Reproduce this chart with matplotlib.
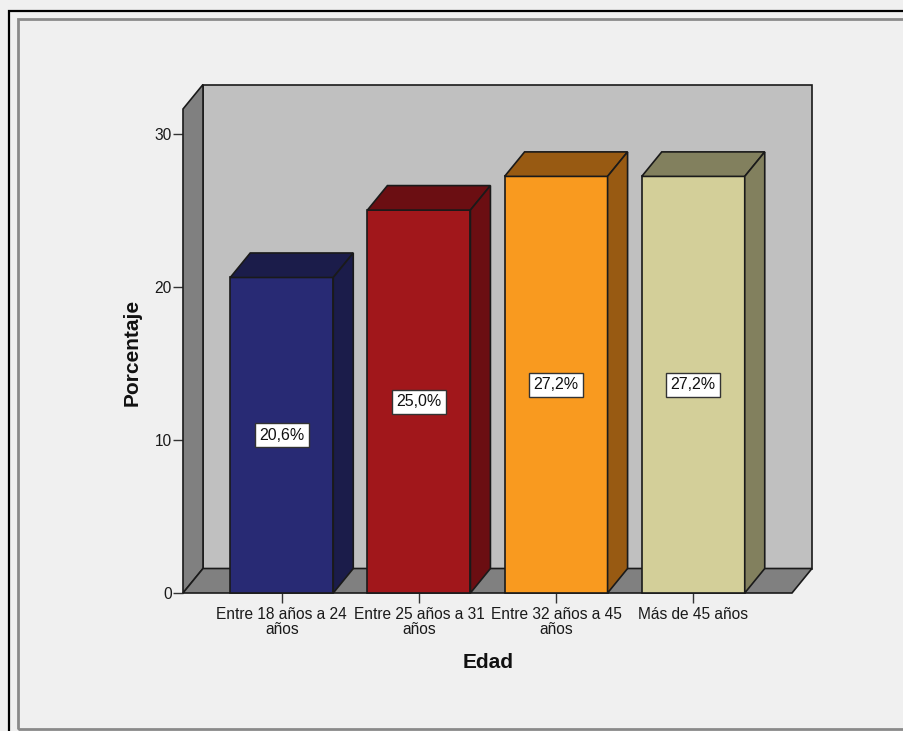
import matplotlib
matplotlib.use('Agg')
import matplotlib.pyplot as plt
from matplotlib.patches import Polygon, Rectangle

plt.rcParams['font.family'] = ['Liberation Sans', 'DejaVu Sans']

# data
categories = ['Entre 18 años a 24\naños', 'Entre 25 años a 31\naños',
              'Entre 32 años a 45\naños', 'Más de 45 años']
values = [20.6, 25.0, 27.2, 27.2]
front_colors = ['#282A74', '#A1171B', '#F99A1F', '#D3CF99']
dark_colors = ['#1B1C4A', '#6B0E12', '#985A12', '#82805E']
yticks = [0, 10, 20, 30]

W, H = 904, 731
EDGE = '#1a1a1a'


def fx(px):
    return px / W


def fy(py):
    return 1 - py / H


def main():
    fig = plt.figure(figsize=(W / 100, H / 100), dpi=100, facecolor='#f0f0f0')

    # frame lines around the chart
    fig.patches.append(Rectangle((fx(8.5), fy(740)), fx(1000), fy(10.5) - fy(740),
                                 transform=fig.transFigure, fill=False,
                                 ec='black', lw=1.6))
    fig.patches.append(Rectangle((fx(18), fy(728.5)), fx(1000), fy(19) - fy(728.5),
                                 transform=fig.transFigure, fill=False,
                                 ec='#8a8a8a', lw=2.0))

    ax = fig.add_axes([fx(183), fy(593), fx(792) - fx(183), fy(109) - fy(593)])
    ax.set_facecolor('none')
    x0, x1 = -0.72, 3.72
    ymax = 31.6
    ax.set_xlim(x0, x1)
    ax.set_ylim(0, ymax)
    dx = 20 / 609 * (x1 - x0)
    dy = 24.5 / 484 * ymax

    # back wall, left wall, floor
    ax.add_patch(Rectangle((x0 + dx, dy), x1 - x0, ymax, fc='#c0c0c0', ec=EDGE,
                           lw=1.2, clip_on=False, zorder=1))
    ax.add_patch(Polygon([(x0, 0), (x0 + dx, dy), (x0 + dx, ymax + dy), (x0, ymax)],
                         fc='#808080', ec=EDGE, lw=1.2, clip_on=False, zorder=2))
    ax.add_patch(Polygon([(x0, 0), (x1, 0), (x1 + dx, dy), (x0 + dx, dy)],
                         fc='#808080', ec=EDGE, lw=1.2, clip_on=False, zorder=2))

    bw = 103 / 609 * (x1 - x0)
    for i, v in enumerate(values):
        l, r = i - bw / 2, i + bw / 2
        ax.add_patch(Rectangle((l, 0), bw, v, fc=front_colors[i], ec=EDGE,
                               lw=1.2, clip_on=False, zorder=3))
        ax.add_patch(Polygon([(l, v), (r, v), (r + dx, v + dy), (l + dx, v + dy)],
                             fc=dark_colors[i], ec=EDGE, lw=1.2, clip_on=False, zorder=3))
        ax.add_patch(Polygon([(r, 0), (r + dx, dy), (r + dx, v + dy), (r, v)],
                             fc=dark_colors[i], ec=EDGE, lw=1.2, clip_on=False, zorder=3))
        label = f'{v:.1f}%'.replace('.', ',')
        ax.text(i, v / 2, label, ha='center', va='center', fontsize=11.5,
                color='#111111', zorder=5,
                bbox=dict(boxstyle='square,pad=0.28', fc='white', ec='#333333', lw=1))

    for s in ax.spines.values():
        s.set_visible(False)
    ax.set_yticks(yticks)
    ax.set_yticklabels([str(t) for t in yticks])
    ax.set_xticks(range(len(categories)))
    ax.set_xticklabels(categories, linespacing=0.95)
    ax.tick_params(axis='y', length=7.2, width=1, color='#333333', pad=1,
                   labelsize=11.2, labelcolor='#1a1a1a')
    ax.tick_params(axis='x', length=7.2, width=1, color='#333333', pad=3,
                   labelsize=11.2, labelcolor='#1a1a1a')

    fig.text(fx(132), fy(352), 'Porcentaje', rotation=90, ha='center', va='center',
             fontsize=15, weight='bold', color='#111111')
    fig.text(fx(488), fy(662), 'Edad', ha='center', va='center',
             fontsize=15, weight='bold', color='#111111')

    fig.savefig('out.png', dpi=100, facecolor=fig.get_facecolor())


if __name__ == '__main__':
    main()
